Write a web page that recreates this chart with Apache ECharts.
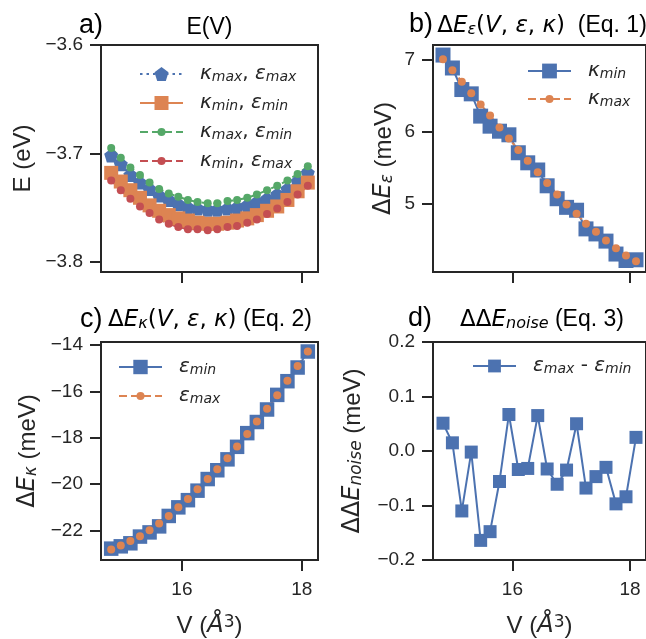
<!DOCTYPE html>
<html>
<head>
<meta charset="utf-8">
<script src="https://cdn.jsdelivr.net/npm/echarts@6/dist/echarts.min.js"></script>
<style>
  html, body { margin: 0; padding: 0; background: #fff; }
  #chart { width: 646px; height: 639px; }
</style>
</head>
<body>
<div id="chart"></div>
<script>
// Volumes (Å^3), same for every panel
const volumes = [14.82, 14.98, 15.14, 15.30, 15.46, 15.62, 15.78, 15.94, 16.10, 16.26, 16.43,
  16.59, 16.76, 16.92, 17.09, 17.25, 17.42, 17.59, 17.76, 17.93, 18.10];

// a) E(V) in eV
const eKmaxEmax = [-3.702, -3.710, -3.720, -3.727, -3.733, -3.739, -3.743, -3.747, -3.750, -3.751, -3.752,
  -3.752, -3.751, -3.750, -3.748, -3.745, -3.742, -3.738, -3.733, -3.726, -3.718];
const eKminEmin = [-3.718, -3.726, -3.734, -3.741, -3.748, -3.753, -3.757, -3.760, -3.762, -3.764, -3.765,
  -3.765, -3.764, -3.762, -3.760, -3.757, -3.753, -3.749, -3.743, -3.735, -3.727];
const eKmaxEmin = [-3.695, -3.704, -3.713, -3.720, -3.727, -3.733, -3.737, -3.740, -3.743, -3.745, -3.746,
  -3.746, -3.744, -3.743, -3.741, -3.738, -3.734, -3.730, -3.725, -3.719, -3.712];
const eKminEmax = [-3.725, -3.734, -3.742, -3.749, -3.755, -3.761, -3.765, -3.768, -3.770, -3.770, -3.771,
  -3.770, -3.768, -3.767, -3.764, -3.761, -3.756, -3.751, -3.745, -3.738, -3.730];

// b) ΔE_ε in meV
const dEepsKmin = [7.07, 6.89, 6.59, 6.53, 6.22, 6.08, 6.01, 5.96, 5.71, 5.57, 5.47,
  5.25, 5.07, 4.95, 4.91, 4.65, 4.58, 4.48, 4.30, 4.21, 4.22];
const dEepsKmax = [7.01, 6.86, 6.70, 6.54, 6.38, 6.23, 6.06, 5.91, 5.75, 5.60, 5.44,
  5.29, 5.13, 4.99, 4.86, 4.72, 4.61, 4.49, 4.38, 4.28, 4.20];

// c) ΔE_κ in meV
const dEkapEmin = [-22.78, -22.68, -22.55, -22.26, -22.08, -21.82, -21.37, -21.00, -20.69, -20.28, -19.78,
  -19.40, -18.93, -18.39, -17.80, -17.32, -16.78, -16.15, -15.56, -14.97, -14.28];
const dEkapEmax = [-22.82, -22.65, -22.45, -22.25, -21.99, -21.70, -21.37, -21.00, -20.64, -20.22, -19.78,
  -19.36, -18.88, -18.38, -17.84, -17.30, -16.75, -16.17, -15.54, -14.90, -14.28];

// d) ΔΔE_noise in meV
const ddEnoise = [0.051, 0.015, -0.110, -0.002, -0.164, -0.148, -0.056, 0.067, -0.034, -0.032, 0.065,
  -0.033, -0.061, -0.035, 0.050, -0.068, -0.047, -0.030, -0.097, -0.084, 0.025];

// tick labels
const xTicks = [16, 18];
const yTicksA = [-3.8, -3.7, -3.6];
const yTicksB = [5, 6, 7];
const yTicksC = [-22, -20, -18, -16, -14];
const yTicksD = [-0.2, -0.1, 0.0, 0.1, 0.2];

const ink = '#262626';
const blue = '#4C72B0', orange = '#DD8452', green = '#55A868', red = '#C44E52';
const pentagon = 'path://M50,0 L97.6,34.5 L79.4,90.5 L20.6,90.5 L2.4,34.5 Z';

function richSet(size) {
  const sub = Math.round(size * 0.7);
  return {
    t: { fontFamily: 'Liberation Sans', fontSize: size, color: ink },
    m: { fontFamily: 'DejaVu Sans', fontStyle: 'italic', fontSize: size, color: ink },
    u: { fontFamily: 'DejaVu Sans', fontSize: size, color: ink },
    s: { fontFamily: 'DejaVu Sans', fontStyle: 'italic', fontSize: sub, color: ink, verticalAlign: 'bottom', lineHeight: sub },
    sp: { fontFamily: 'DejaVu Sans', fontSize: sub, color: ink, verticalAlign: 'top', lineHeight: sub },
    g: { width: 12 },
    L: { fontFamily: 'Liberation Sans', fontSize: 27, color: ink }
  };
}

const pairs = arr => volumes.map((v, i) => [v, arr[i]]);
const minus = s => s.replace('-', '\u2212');

const grids = [
  { left: 101, top: 45, width: 217, height: 227 },
  { left: 433, top: 45, width: 217, height: 227 },
  { left: 101, top: 342, width: 217, height: 226 },
  { left: 433, top: 342, width: 217, height: 226 }
].map(g => ({ ...g, show: true, borderColor: ink, borderWidth: 2, backgroundColor: 'transparent' }));

const xName = '{t|V (}{m|Å}{sp|3}{t|)}';

function xAxis(idx, labelled) {
  return {
    type: 'value', gridIndex: idx, min: 14.65, max: 18.27,
    axisLine: { show: false, onZero: false },
    splitLine: { show: false },
    axisTick: { show: true, customValues: xTicks, length: 11, lineStyle: { color: ink, width: 2 } },
    axisLabel: { show: labelled, customValues: xTicks, fontSize: 19, fontFamily: 'Liberation Sans', color: ink, margin: 20 },
    name: labelled ? xName : '',
    nameLocation: 'middle', nameGap: 54,
    nameTextStyle: { rich: richSet(24) }
  };
}

function yAxis(idx, min, max, ticks, dec, name, gap) {
  return {
    type: 'value', gridIndex: idx, min: min, max: max,
    axisLine: { show: false, onZero: false },
    splitLine: { show: false },
    axisTick: { show: true, customValues: ticks, length: 11, lineStyle: { color: ink, width: 2 } },
    axisLabel: {
      customValues: ticks, fontSize: 19, fontFamily: 'Liberation Sans', color: ink, margin: 18,
      formatter: v => minus(Number(v).toFixed(dec))
    },
    name: name, nameLocation: 'middle', nameRotate: 90, nameGap: gap,
    nameTextStyle: { rich: richSet(24) }
  };
}

function line(name, idx, data, color, symbol, size, type, width) {
  return {
    name: name, type: 'line', xAxisIndex: idx, yAxisIndex: idx, data: pairs(data),
    symbol: symbol, symbolSize: size, showSymbol: true,
    itemStyle: { color: color },
    lineStyle: { color: color, width: width || 2, type: type },
    emphasis: { disabled: true }, animation: false
  };
}

const dash = [8, 4];
const dots = [2.5, 4];

const labels = {
  a1: '{g| }{m|κ}{s|max}{u|, }{m|ε}{s|max}',
  a2: '{g| }{m|κ}{s|min}{u|, }{m|ε}{s|min}',
  a3: '{g| }{m|κ}{s|max}{u|, }{m|ε}{s|min}',
  a4: '{g| }{m|κ}{s|min}{u|, }{m|ε}{s|max}',
  b1: '{g| }{m|κ}{s|min}',
  b2: '{g| }{m|κ}{s|max}',
  c1: '{g| }{m|ε}{s|min}',
  c2: '{g| }{m|ε}{s|max}',
  d1: '{g| }{m|ε}{s|max}{u| - }{m|ε}{s|min}'
};

function legend(name, left, center, itemHeight) {
  return {
    data: [name], left: left, top: center - 12, orient: 'vertical', padding: 0,
    itemWidth: 43, itemHeight: itemHeight, selectedMode: false,
    formatter: n => labels[n],
    textStyle: { rich: richSet(20) }
  };
}

function text(x, y, str, align) {
  return {
    type: 'text', x: x, y: y,
    style: { text: str, rich: richSet(23), align: align, verticalAlign: 'middle' }
  };
}

const option = {
  backgroundColor: '#fff',
  animation: false,
  grid: grids,
  xAxis: [xAxis(0, false), xAxis(1, false), xAxis(2, true), xAxis(3, true)],
  yAxis: [
    yAxis(0, -3.8095, -3.6, yTicksA, 1, '{t|E (eV)}', 66),
    yAxis(1, 4.05, 7.21, yTicksB, 0, '{u|Δ}{m|E}{s|ε}{t| (meV)}', 37),
    yAxis(2, -23.27, -13.87, yTicksC, 0, '{u|Δ}{m|E}{s|κ}{t| (meV)}', 61),
    yAxis(3, -0.2, 0.2, yTicksD, 1, '{u|ΔΔ}{m|E}{s|noise}{t| (meV)}', 68)
  ],
  legend: [
    legend('a1', 139, 76, 17.5),
    legend('a2', 139, 105, 17.5),
    legend('a3', 139, 134, 10),
    legend('a4', 139, 163, 10),
    legend('b1', 527, 73, 18.5),
    legend('b2', 527, 101, 10),
    legend('c1', 118, 369, 18),
    legend('c2', 118, 398, 10),
    legend('d1', 472, 368, 16)
  ],
  series: [
    line('a1', 0, eKmaxEmax, blue, pentagon, 14, dots, 2.5),
    line('a2', 0, eKminEmin, orange, 'rect', 14, 'solid'),
    line('a3', 0, eKmaxEmin, green, 'circle', 8, dash),
    line('a4', 0, eKminEmax, red, 'circle', 8, dash),
    line('b1', 1, dEepsKmin, blue, 'rect', 15, 'solid'),
    line('b2', 1, dEepsKmax, orange, 'circle', 8, dash),
    line('c1', 2, dEkapEmin, blue, 'rect', 14.5, 'solid'),
    line('c2', 2, dEkapEmax, orange, 'circle', 8, dash),
    line('d1', 3, ddEnoise, blue, 'rect', 13, 'solid')
  ],
  graphic: [
    text(79, 26, '{L|a)}', 'left'),
    text(209.5, 28, '{t|E(V)}', 'center'),
    text(409, 25, '{L|b)}', 'left'),
    text(542, 26, '{u|Δ}{m|E}{s|ε}{u|(}{m|V}{u|, }{m|ε}{u|, }{m|κ}{u|)}{t|  (Eq. 1)}', 'center'),
    text(80, 320, '{L|c)}', 'left'),
    text(210, 320, '{u|Δ}{m|E}{s|κ}{u|(}{m|V}{u|, }{m|ε}{u|, }{m|κ}{u|)}{t| (Eq. 2)}', 'center'),
    text(408, 319, '{L|d)}', 'left'),
    text(542, 320, '{u|ΔΔ}{m|E}{s|noise}{t| (Eq. 3)}', 'center')
  ]
};

const chart = echarts.init(document.getElementById('chart'), null, { renderer: 'canvas' });
chart.setOption(option);
</script>
</body>
</html>
